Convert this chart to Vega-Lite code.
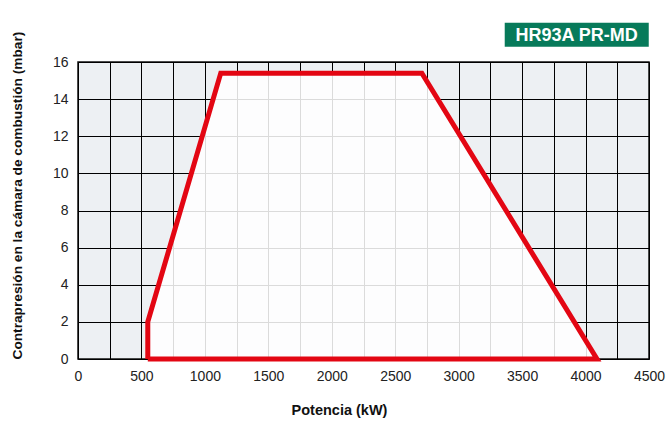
{
  "$schema": "https://vega.github.io/schema/vega-lite/v6.json",
  "width": 571,
  "height": 297,
  "autosize": {"type": "none"},
  "padding": {"left": 78, "top": 62, "right": 21, "bottom": 62},
  "background": "white",
  "config": {
    "font": "Liberation Sans",
    "view": {"fill": "#edf0f3", "stroke": "#111111", "strokeWidth": 1.5},
    "axis": {
      "grid": true, "gridColor": "#000000", "gridWidth": 1, "gridOpacity": 1,
      "ticks": false, "domain": false, "labelOverlap": false, "labelFlush": false,
      "labelFont": "Liberation Sans", "labelFontSize": 14, "labelColor": "#222222",
      "titleFont": "Liberation Sans", "titleFontSize": 13.7, "titleFontWeight": "bold", "titleColor": "#111111"
    }
  },
  "datasets": {
    "envelope": [
      {"order": 1, "power": 550, "pressure": 0},
      {"order": 2, "power": 550, "pressure": 2},
      {"order": 3, "power": 1125, "pressure": 15.4},
      {"order": 4, "power": 2710, "pressure": 15.4},
      {"order": 5, "power": 4090, "pressure": 0},
      {"order": 6, "power": 550, "pressure": 0}
    ],
    "area": [
      {"power": 550, "pressure": 2},
      {"power": 1125, "pressure": 15.4},
      {"power": 2710, "pressure": 15.4},
      {"power": 4090, "pressure": 0}
    ]
  },
  "layer": [
    {
      "data": {"name": "area"},
      "mark": {"type": "area", "color": "white", "opacity": 0.86, "interpolate": "linear"},
      "encoding": {
        "x": {
          "field": "power", "type": "quantitative",
          "scale": {"domain": [0, 4500], "nice": false, "zero": false},
          "axis": {
            "values": [0, 250, 500, 750, 1000, 1250, 1500, 1750, 2000, 2250, 2500, 2750, 3000, 3250, 3500, 3750, 4000, 4250, 4500],
            "tickCount": 40,
            "labelExpr": "datum.value % 500 === 0 ? datum.value + '' : ''",
            "labelPadding": 10,
            "title": "Potencia (kW)",
            "titleFontSize": 14.5,
            "titleX": 261, "titleY": 51, "titleBaseline": "middle"
          }
        },
        "y": {
          "field": "pressure", "type": "quantitative",
          "scale": {"domain": [0, 16], "nice": false},
          "axis": {
            "values": [0, 2, 4, 6, 8, 10, 12, 14, 16],
            "tickCount": 20,
            "labelPadding": 10,
            "title": "Contrapresión en la cámara de combustión (mbar)",
            "titleAnchor": "start",
            "titleX": -61, "titleBaseline": "middle"
          }
        },
        "y2": {"datum": 0}
      }
    },
    {
      "data": {"name": "envelope"},
      "mark": {"type": "line", "color": "#e30613", "strokeWidth": 5, "strokeJoin": "miter", "clip": false},
      "encoding": {
        "x": {"field": "power", "type": "quantitative"},
        "y": {"field": "pressure", "type": "quantitative"},
        "order": {"field": "order", "type": "quantitative"}
      }
    },
    {
      "data": {"values": [{"label": "HR93A PR-MD"}]},
      "mark": {"type": "rect", "color": "#077a5a", "clip": false},
      "encoding": {
        "x": {"datum": 3363},
        "x2": {"datum": 4498},
        "y": {"datum": 18.12},
        "y2": {"datum": 16.82}
      }
    },
    {
      "data": {"values": [{"label": "HR93A PR-MD"}]},
      "mark": {"type": "text", "color": "white", "fontSize": 18, "fontWeight": "bold", "font": "Liberation Sans", "clip": false, "align": "center", "baseline": "middle", "dy": 1},
      "encoding": {
        "x": {"datum": 3930},
        "y": {"datum": 17.47},
        "text": {"field": "label"}
      }
    }
  ]
}
